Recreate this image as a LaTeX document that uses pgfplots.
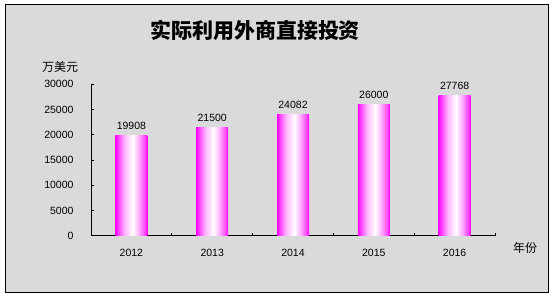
\documentclass[border=0pt]{standalone}
\usepackage{pgfplots}
\pgfplotsset{compat=1.18}
\usepackage{fontspec}
\setmainfont{Liberation Sans}
\newfontfamily\cjk{Noto Sans CJK SC}
\definecolor{mag}{RGB}{255,0,255}
\definecolor{ma}{RGB}{255,70,255}
\definecolor{mb}{RGB}{255,180,255}
\definecolor{bgcol}{RGB}{218,218,218}
\pgfdeclarehorizontalshading{barshade}{100bp}{color(0bp)=(mag); color(25bp)=(mag); color(30bp)=(ma); color(39bp)=(mb); color(52bp)=(white); color(61bp)=(mb); color(71bp)=(ma); color(75bp)=(mag); color(100bp)=(mag)}
\begin{document}
\begin{tikzpicture}[x=1pt,y=1pt]
\path[use as bounding box] (0,0) rectangle (555,300);
\fill[bgcol] (5,7) rectangle (548,295);
\draw[black, line width=1pt] (5,7) rectangle (548,295);
\begin{axis}[
  at={(91pt,64.3pt)}, anchor=south west,
  scale only axis, width=404pt, height=151.4pt,
  xmin=-0.5, xmax=4.5, ymin=0, ymax=30000,
  axis x line*=bottom, axis y line*=left,
  axis line style={line width=0.8pt},
  tick align=inside, major tick length=3pt,
  tick style={black, line width=0.8pt},
  ytick={0,5000,...,30000}, scaled y ticks=false,
  /pgf/number format/assume math mode=true,
  /pgf/number format/1000 sep={},
  yticklabel style={font=\fontsize{10.5}{12}\selectfont, xshift=-14pt},
  xtick={-0.5,0.5,1.5,2.5,3.5,4.5}, xticklabels={},
  extra x ticks={0,1,2,3,4},
  extra x tick labels={2012,2013,2014,2015,2016},
  extra x tick style={major tick length=0pt, tick label style={font=\fontsize{10.5}{12}\selectfont, yshift=-10pt}},
  clip=false,
  mybar/.style={ybar, bar width=32pt, bar shift=0pt, draw=none, shade, shading=barshade, mark=none,
    nodes near coords,
    every node near coord/.append style={black, font=\fontsize{10.5}{12}\selectfont, yshift=2pt, /pgf/number format/assume math mode=true, /pgf/number format/1000 sep={}}},
]
\addplot[mybar] coordinates {(0,19908)};
\addplot[mybar] coordinates {(1,21500)};
\addplot[mybar] coordinates {(2,24082)};
\addplot[mybar] coordinates {(3,26000)};
\addplot[mybar] coordinates {(4,27768)};
\end{axis}
\node[font=\cjk\bfseries\fontsize{21}{24}\selectfont] at (255,270) {实际利用外商直接投资};
\node[font=\cjk\fontsize{12}{14}\selectfont] at (60,233) {万美元};
\node[font=\cjk\fontsize{12}{14}\selectfont] at (525,52) {年份};
\end{tikzpicture}
\end{document}
